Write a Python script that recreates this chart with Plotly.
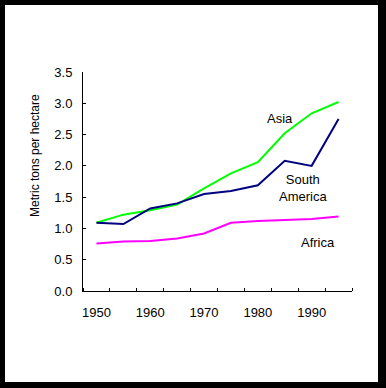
import plotly.graph_objects as go

years = ["1950", "1955", "1960", "1965", "1970", "1975", "1980", "1985", "1990", "1995"]
tick_labels = ["1950", "1960", "1970", "1980", "1990"]
asia = [1.09, 1.22, 1.29, 1.38, 1.64, 1.88, 2.06, 2.52, 2.84, 3.02]
south_america = [1.09, 1.07, 1.32, 1.40, 1.55, 1.60, 1.69, 2.08, 2.00, 2.75]
africa = [0.76, 0.79, 0.80, 0.84, 0.92, 1.09, 1.12, 1.14, 1.15, 1.19]

FONT = "Liberation Sans, Arial, sans-serif"
W, H = 386, 388
L, R, T, B = 83, 34, 72, 97
PW, PH = W - L - R, H - T - B

def px_to_paper_x(px):
    return (px - L) / PW

def px_to_paper_y(py):
    return (H - B - py) / PH

xidx = list(range(len(years)))

fig = go.Figure()
fig.add_trace(go.Scatter(x=xidx, y=asia, mode="lines", line=dict(color="#00ff00", width=2), name="Asia"))
fig.add_trace(go.Scatter(x=xidx, y=south_america, mode="lines", line=dict(color="#000080", width=2), name="South America"))
fig.add_trace(go.Scatter(x=xidx, y=africa, mode="lines", line=dict(color="#ff00ff", width=2), name="Africa"))

fig.add_shape(type="rect", xref="paper", yref="paper",
              x0=px_to_paper_x(5), x1=px_to_paper_x(378),
              y0=px_to_paper_y(382), y1=px_to_paper_y(5),
              fillcolor="white", line=dict(width=0), layer="below")

ann_font = dict(family=FONT, size=13, color="black")
fig.add_annotation(x=6.81, y=2.76, text="Asia", showarrow=False, font=ann_font)
fig.add_annotation(x=7.67, y=1.64, text="South<br>America", showarrow=False, font=ann_font, align="center")
fig.add_annotation(x=8.22, y=0.78, text="Africa", showarrow=False, font=ann_font)
fig.add_annotation(xref="paper", yref="paper", x=px_to_paper_x(35), y=px_to_paper_y(156),
                   xanchor="center", yanchor="middle",
                   text="Metric tons per hectare", textangle=-90, showarrow=False,
                   font=dict(family=FONT, size=12, color="black"))

fig.update_layout(
    width=W, height=H,
    margin=dict(l=L, r=R, t=T, b=B),
    paper_bgcolor="black",
    plot_bgcolor="rgba(0,0,0,0)",
    showlegend=False,
    font=dict(family=FONT, size=12, color="black"),
    xaxis=dict(
        range=[-0.5, len(years) - 0.5],
        tickmode="array",
        tickvals=[years.index(t) for t in tick_labels],
        ticktext=tick_labels,
        ticks="",
        ticklabelstandoff=9,
        showgrid=False, zeroline=False,
        showline=True, linecolor="black", linewidth=1,
        tickfont=dict(family=FONT, size=13, color="black"),
        minor=dict(tickmode="linear", tick0=-0.5, dtick=1, ticks="inside", ticklen=3,
                   tickcolor="black", showgrid=False),
    ),
    yaxis=dict(
        range=[0, 3.5],
        tickmode="linear", tick0=0, dtick=0.5,
        tickformat=".1f",
        ticks="inside", ticklen=3, tickcolor="black",
        ticklabelstandoff=7,
        showgrid=False, zeroline=False,
        showline=True, linecolor="black", linewidth=1,
        tickfont=dict(family=FONT, size=13, color="black"),
    ),
)

fig.write_html("out.html", config={"displayModeBar": False, "staticPlot": True},
               post_script="document.body.style.margin='0';document.body.style.padding='0';document.body.style.overflow='hidden';document.body.style.background='black';")
